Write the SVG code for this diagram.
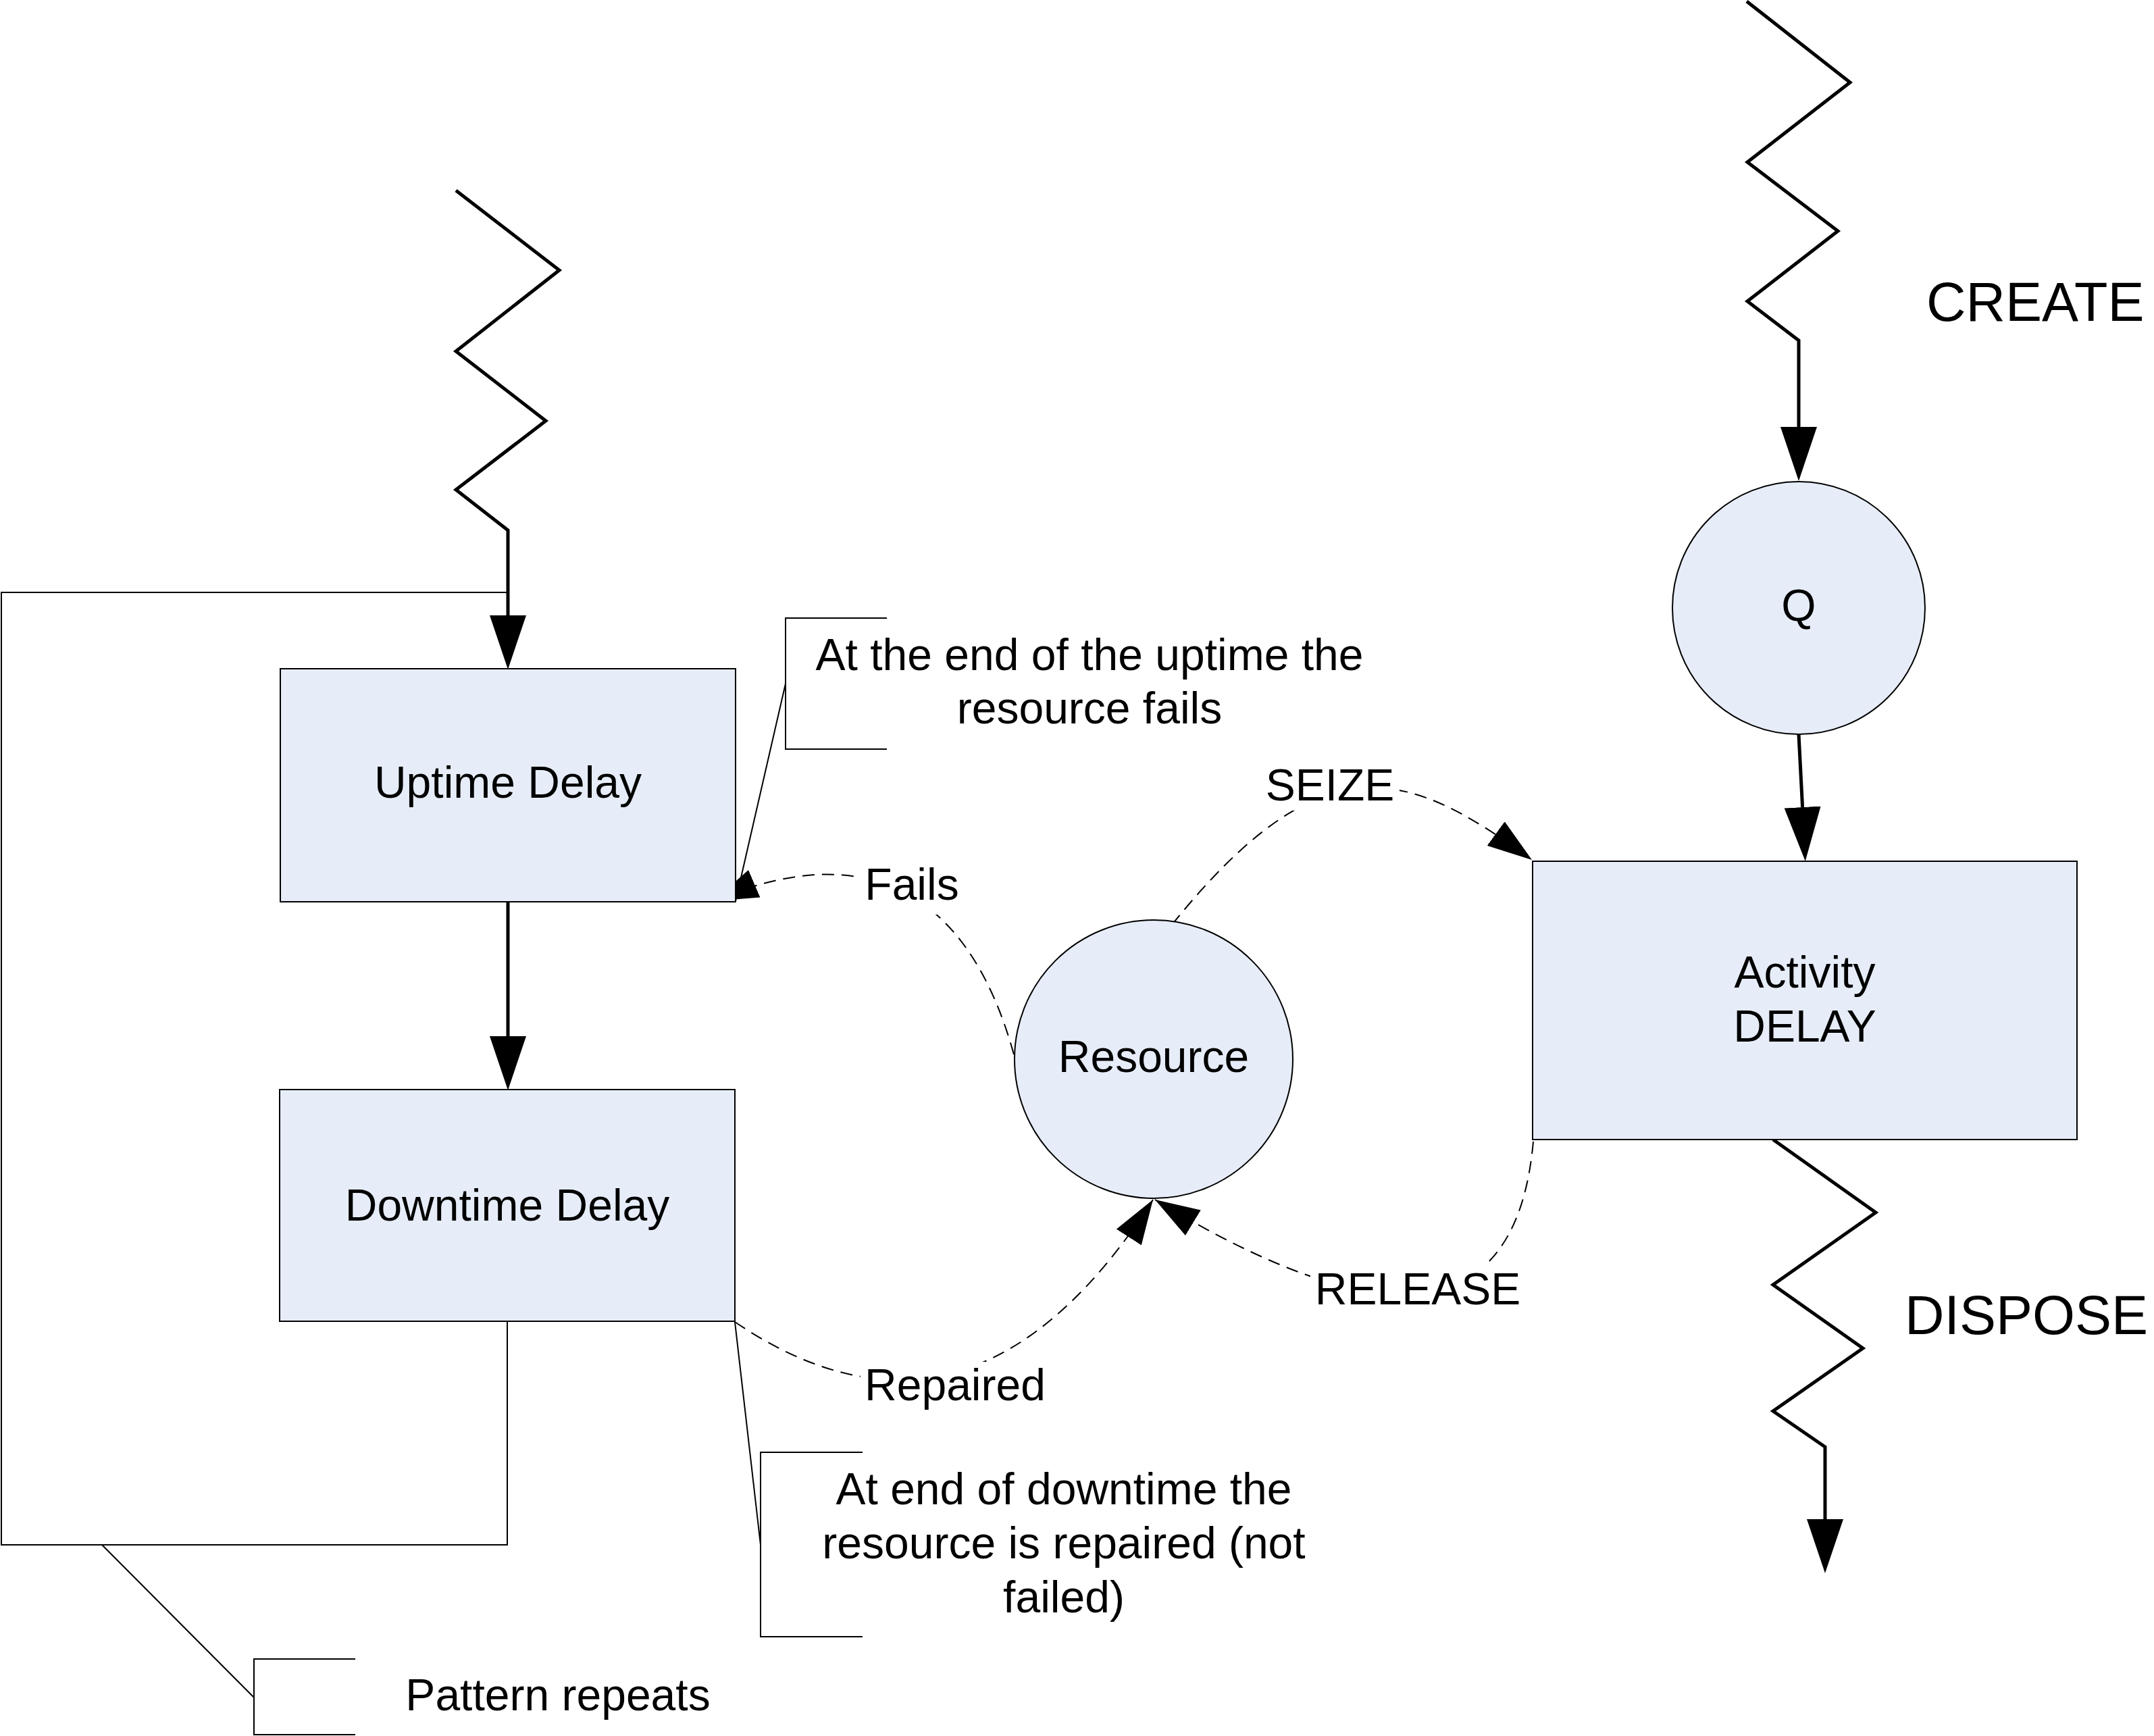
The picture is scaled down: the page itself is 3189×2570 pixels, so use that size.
<svg xmlns="http://www.w3.org/2000/svg" width="3189" height="2570" viewBox="0 0 3189 2570">
<style>
  text { font-family: "Liberation Sans", Arial, sans-serif; font-size: 66px; fill: #000; text-anchor: middle; }
  .big { font-size: 81px; text-anchor: start; }
  .box { fill: #E6EDF8; stroke: #000; stroke-width: 2; }
  .thick { fill: none; stroke: #000; stroke-width: 5; stroke-linejoin: miter; }
  .thin { fill: none; stroke: #000; stroke-width: 2; }
  .dash { fill: none; stroke: #000; stroke-width: 2; stroke-dasharray: 18 11; }
  .bg { fill: #fff; stroke: none; }
</style>
<defs>
  <marker id="solidHead" markerUnits="userSpaceOnUse" viewBox="0 0 80 54" refX="0" refY="27" markerWidth="80" markerHeight="54" orient="auto">
    <path d="M0,0 L80,27 L0,54 z" fill="#000"/>
  </marker>
  <marker id="dashHead" markerUnits="userSpaceOnUse" viewBox="0 0 66 44" refX="66" refY="22" markerWidth="66" markerHeight="44" orient="auto">
    <path d="M0,0 L66,22 L0,44 z" fill="#000"/>
  </marker>
</defs>
<rect width="3189" height="2570" fill="#fff"/>

<g id="connectors">
  <!-- loop of the failure pattern -->
  <path class="thin" d="M752,877 L2,877 L2,2287 L751,2287 L751,1956"/>
  <!-- left zigzag into Uptime Delay -->
  <path class="thick" d="M675,282 L828,400 L675,520 L808,623 L675,725 L752,785 L752,911" marker-end="url(#solidHead)"/>
  <!-- Uptime to Downtime -->
  <path class="thick" d="M752,1335 L752,1534" marker-end="url(#solidHead)"/>
  <!-- CREATE zigzag into Q -->
  <path class="thick" d="M2586,2 L2739,122 L2587,240 L2721,342 L2587,446 L2663,504 L2663,632" marker-end="url(#solidHead)"/>
  <!-- Q to Activity -->
  <path class="thick" d="M2663,1087 L2668.6,1195" marker-end="url(#solidHead)"/>
  <!-- DISPOSE zigzag -->
  <path class="thick" d="M2625,1687 L2777,1795 L2625,1902 L2758,1996 L2625,2089 L2702,2142 L2702,2249" marker-end="url(#solidHead)"/>

  <!-- dashed resource interactions -->
  <path id="fails" class="dash" d="M1501,1561 C1440,1340 1300,1230 1056,1334" marker-end="url(#dashHead)"/>
  <path id="seize" class="dash" d="M1735,1369 C1960,1090 2086,1140 2268,1273" marker-end="url(#dashHead)"/>
  <path id="release" class="dash" d="M2270,1690 Q2234,2094 1710,1776" marker-end="url(#dashHead)"/>
  <path id="repaired" class="dash" d="M1088,1957 Q1438,2194 1707,1776" marker-end="url(#dashHead)"/>

  <!-- connector labels -->
  <g id="label-fails">
    <rect class="bg" x="1272" y="1276" width="154" height="78"/>
    <text x="1350" y="1332">Fails</text>
  </g>
  <g id="label-seize">
    <rect class="bg" x="1866" y="1128" width="206" height="72"/>
    <text x="1969" y="1185">SEIZE</text>
  </g>
  <g id="label-release">
    <rect class="bg" x="1940" y="1874" width="320" height="72"/>
    <text x="2099" y="1931">RELEASE</text>
  </g>
  <g id="label-repaired">
    <rect class="bg" x="1274" y="2016" width="282" height="80"/>
    <text x="1414" y="2073">Repaired</text>
  </g>
</g>

<g id="uptime-delay">
  <rect class="box" x="415" y="990" width="674" height="345"/>
  <text x="752" y="1181">Uptime Delay</text>
</g>

<g id="downtime-delay">
  <rect class="box" x="414" y="1613" width="674" height="343"/>
  <text x="751" y="1807">Downtime Delay</text>
</g>

<g id="resource">
  <circle class="box" cx="1708" cy="1568" r="206"/>
  <text x="1708" y="1587">Resource</text>
</g>

<g id="queue">
  <circle class="box" cx="2663" cy="900" r="187"/>
  <text x="2663" y="919">Q</text>
</g>

<g id="activity-delay">
  <rect class="box" x="2269" y="1275" width="806" height="412"/>
  <text x="2672" y="1462">Activity</text>
  <text x="2672" y="1542">DELAY</text>
</g>

<g id="create-label">
  <text class="big" x="2852" y="475">CREATE</text>
</g>

<g id="dispose-label">
  <text class="big" x="2820" y="1975">DISPOSE</text>
</g>

<g id="note-uptime">
  <path class="thin" d="M1313,915 L1163,915 L1163,1109 L1313,1109"/>
  <path class="thin" d="M1163,1012 L1089,1334"/>
  <text x="1613" y="992">At the end of the uptime the</text>
  <text x="1613" y="1071">resource fails</text>
</g>

<g id="note-downtime">
  <path class="thin" d="M1277,2150 L1126,2150 L1126,2423 L1277,2423"/>
  <path class="thin" d="M1088,1957 L1126,2287"/>
  <text x="1575" y="2227">At end of downtime the</text>
  <text x="1575" y="2307">resource is repaired (not</text>
  <text x="1575" y="2387">failed)</text>
</g>

<g id="note-pattern">
  <path class="thin" d="M526,2456 L376,2456 L376,2568 L526,2568"/>
  <path class="thin" d="M151,2287 L376,2513"/>
  <text x="826" y="2532">Pattern repeats</text>
</g>
</svg>
